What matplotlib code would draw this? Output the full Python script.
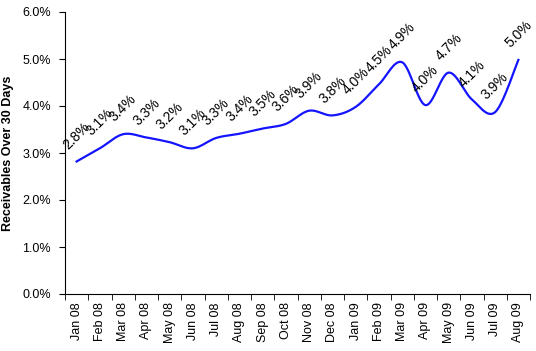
import numpy as np
import matplotlib.pyplot as plt

plt.rcParams['font.family'] = ['Liberation Sans', 'DejaVu Sans']

months = ["Jan 08", "Feb 08", "Mar 08", "Apr 08", "May 08", "Jun 08", "Jul 08",
          "Aug 08", "Sep 08", "Oct 08", "Nov 08", "Dec 08", "Jan 09", "Feb 09",
          "Mar 09", "Apr 09", "May 09", "Jun 09", "Jul 09", "Aug 09"]
receivables = [2.82, 3.10, 3.40, 3.33, 3.23, 3.10, 3.32, 3.41, 3.52, 3.62,
               3.90, 3.80, 3.98, 4.46, 4.93, 4.02, 4.71, 4.14, 3.87, 4.98]
labels = ["2.8%", "3.1%", "3.4%", "3.3%", "3.2%", "3.1%", "3.3%", "3.4%", "3.5%",
          "3.6%", "3.9%", "3.8%", "4.0%", "4.5%", "4.9%", "4.0%", "4.7%", "4.1%",
          "3.9%", "5.0%"]


def smooth(x, y, n=30):
    # bezier smoothing like excel "smoothed line"
    x = np.asarray(x, float)
    y = np.asarray(y, float)
    px = np.concatenate([[x[0]], x, [x[-1]]])
    py = np.concatenate([[y[0]], y, [y[-1]]])
    xs, ys = [], []
    t = np.linspace(0, 1, n)
    for i in range(1, len(px) - 2):
        p0 = np.array([px[i], py[i]])
        p3 = np.array([px[i + 1], py[i + 1]])
        c1 = p0 + (np.array([px[i + 1], py[i + 1]]) - np.array([px[i - 1], py[i - 1]])) / 6
        c2 = p3 - (np.array([px[i + 2], py[i + 2]]) - np.array([px[i], py[i]])) / 6
        b = ((1 - t) ** 3)[:, None] * p0 + (3 * (1 - t) ** 2 * t)[:, None] * c1 \
            + (3 * (1 - t) * t ** 2)[:, None] * c2 + (t ** 3)[:, None] * p3
        xs.extend(b[:, 0])
        ys.extend(b[:, 1])
    return np.array(xs), np.array(ys)


fig = plt.figure(figsize=(5.36, 3.51), dpi=100)
ax = fig.add_axes([65 / 536, 57 / 351, 465 / 536, 282 / 351])

x = np.arange(len(months))
sx, sy = smooth(x, receivables)
ax.plot(sx, sy, color="#1414ff", linewidth=1.6)

for xi, yi, lab in zip(x, receivables, labels):
    ax.annotate(lab, (xi, yi), xytext=(0, 7), textcoords="offset points",
                ha="center", va="bottom", rotation=45, fontsize=10)

ax.set_xlim(-0.5, len(months) - 0.5)
ax.set_ylim(0, 6)
ax.set_yticks(np.arange(0, 7, 1))
ax.set_yticklabels([f"{v:.1f}%" for v in range(7)], fontsize=9)
ax.set_xticks(x)
ax.set_xticklabels(months, rotation=90, fontsize=9)
ax.set_xticks(np.arange(-0.5, len(months)), minor=True)
ax.tick_params(axis="x", which="major", length=0, pad=6)
ax.tick_params(axis="x", which="minor", length=4, direction="out")
ax.tick_params(axis="y", length=4, direction="out", pad=6)

ax.spines["top"].set_visible(False)
ax.spines["right"].set_visible(False)
ax.set_ylabel("Receivables Over 30 Days", fontsize=9, fontweight="bold", labelpad=6)

fig.savefig("out.png", dpi=100)
